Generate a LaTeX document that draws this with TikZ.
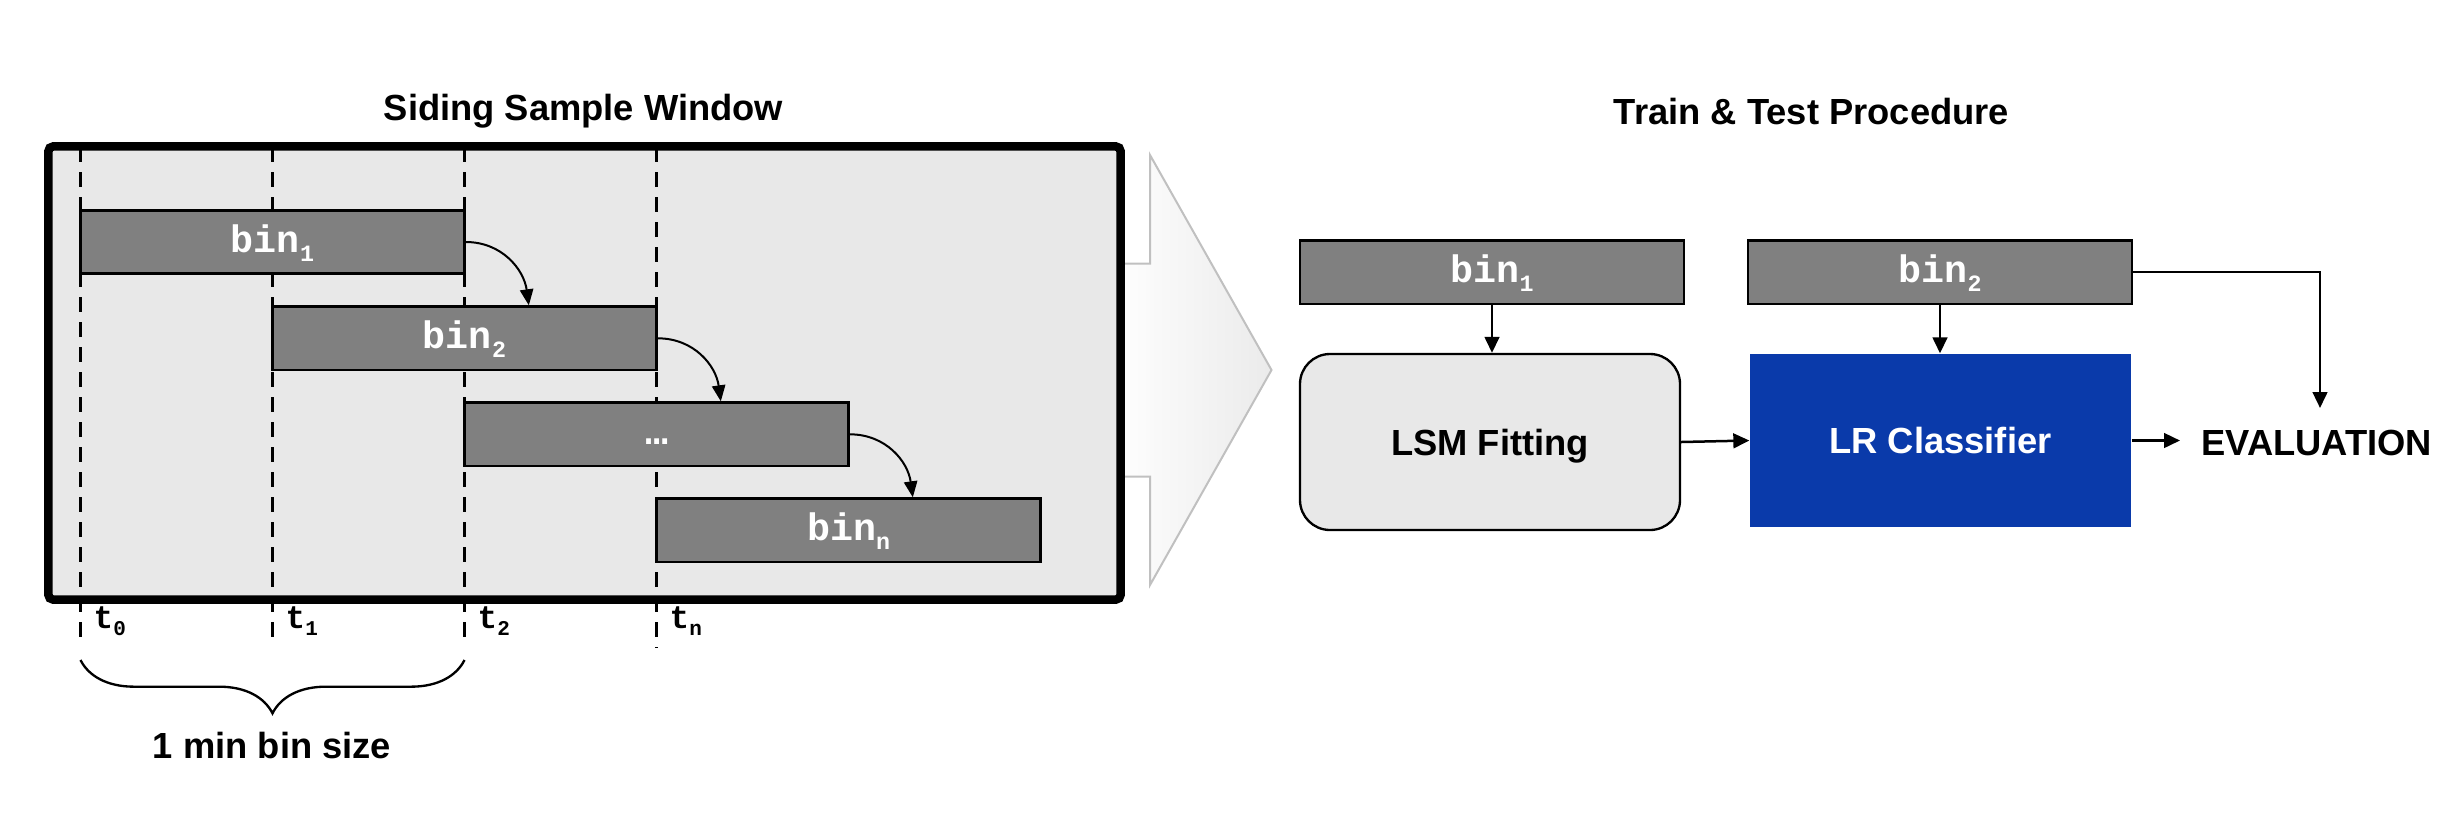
\documentclass[tikz,border=0pt]{standalone}
\usepackage{fontspec}
\setmainfont{Liberation Sans}
\newfontfamily\monof{Liberation Mono}
\usetikzlibrary{arrows.meta,decorations.pathreplacing,calc}
\definecolor{binfill}{HTML}{808080}
\definecolor{winfill}{HTML}{E8E8E8}
\definecolor{lrblue}{HTML}{0A3AAA}
\definecolor{arrowgray}{HTML}{C0C0C0}
\newcommand{\bsub}[1]{\raisebox{-2.6pt}{\fontsize{7}{7}\selectfont #1}}
\newcommand{\tsub}[1]{\raisebox{-2.2pt}{\fontsize{6.3}{6.3}\selectfont #1}}
\begin{document}
\begin{tikzpicture}[x=0.3pt,y=-0.3pt,
  binbox/.style={draw=black, line width=0.8pt, fill=binfill, minimum width=115.2pt,
    minimum height=19pt, inner sep=0pt, text=white,
    font=\monof\bfseries\fontsize{11.5}{13}\selectfont, text height=7.7pt, text depth=1.3pt},
  tlab/.style={inner sep=0pt, font=\monof\bfseries\fontsize{9.8}{11}\selectfont},
  sanslab/.style={font=\bfseries\fontsize{10.9}{13}\selectfont},
  guide/.style={line width=0.7pt, dash pattern=on 4.5pt off 3pt},
  curvarrow/.style={line width=0.6pt, -{Triangle[length=4.8pt,width=4pt]}},
  conn/.style={line width=0.75pt, -{Triangle[length=4.8pt,width=4.4pt]}},
  lsmbox/.style={draw=black, line width=0.7pt, fill=winfill, rounded corners=9pt,
    minimum width=114pt, minimum height=52.8pt, inner sep=0pt, sanslab,
    text height=7.8pt, text depth=0pt},
  lrbox/.style={fill=lrblue, minimum width=114.3pt, minimum height=51.9pt, inner sep=0pt,
    text=white, sanslab, text height=7.8pt, text depth=0pt}
]
\useasboundingbox (0,0) rectangle (2461,835);

% big transition arrow
\shade[left color=white, right color=black!8]
  (1110,263.5) -- (1150,263.5) -- (1150,155) -- (1271.5,370) -- (1150,585) -- (1150,476.5) -- (1110,476.5) -- cycle;
\draw[arrowgray, line width=0.6pt]
  (1110,263.5) -- (1150,263.5) -- (1150,155) -- (1271.5,370) -- (1150,585) -- (1150,476.5) -- (1110,476.5);

% window
\node[fill=winfill, minimum width=321.3pt, minimum height=135.6pt, inner sep=0pt] (win) at (584.5,373) {};

% guide lines
\foreach \gx/\gy/\gn in {80.5/640/0, 272.5/640/1, 464.5/640/2, 656.5/648/n}{
  \coordinate (gt\gn) at (\gx,147);
  \coordinate (gb\gn) at (\gx,\gy);
  \draw[guide] (gt\gn) -- (gb\gn);
}

% bins
\node[binbox] (b1) at (272.5,242) {bin\bsub{1}};
\node[binbox] (b2) at (464.5,338.3) {bin\bsub{2}};
\node[binbox] (b3) at (656.5,434.3) {…};
\node[binbox] (bn) at (848.5,530.3) {bin\bsub{n}};

\draw[line width=2.55pt, rounded corners=1.5pt] (win.north west) rectangle (win.south east);

% curved arrows
\coordinate (a2) at ([xshift=19.3pt]b2.north);
\coordinate (a3) at ([xshift=19.3pt]b3.north);
\coordinate (an) at ([xshift=19.3pt]bn.north);
\draw[curvarrow] (b1.east) .. controls ($(b1.east)+(36,0)$) and ($(a2)+(-5,-36)$) .. (a2);
\draw[curvarrow] (b2.east) .. controls ($(b2.east)+(36,0)$) and ($(a3)+(-5,-36)$) .. (a3);
\draw[curvarrow] (b3.east) .. controls ($(b3.east)+(36,0)$) and ($(an)+(-5,-36)$) .. (an);

% time labels
\node[tlab, anchor=base west] (t0) at (93,628) {t\tsub{0}};
\node[tlab, anchor=base west] (t1) at (285,628) {t\tsub{1}};
\node[tlab, anchor=base west] (t2) at (477,628) {t\tsub{2}};
\node[tlab, anchor=base west] (tn) at (669,628) {t\tsub{n}};

% brace
\coordinate (brl) at (80.5,660);
\coordinate (brr) at (464.5,660);
\draw[line width=0.7pt, decorate, decoration={brace, amplitude=16pt, mirror}] (brl) -- (brr);
\node[sanslab, anchor=base] (bsize) at (272,758.3) {1 min bin size};

% titles
\node[sanslab, anchor=base] (ttl1) at (583.5,120) {Siding Sample Window};
\node[sanslab, anchor=base] (ttl2) at (1811.5,124.5) {Train \& Test Procedure};

% right side
\node[binbox] (rb1) at (1492,272.2) {bin\bsub{1}};
\node[binbox] (rb2) at (1940,272.2) {bin\bsub{2}};
\node[lsmbox] (lsm) at (1490,442) {LSM Fitting};
\node[lrbox] (lr) at (1940.5,440.5) {LR Classifier};
\node[sanslab, anchor=west, inner xsep=6.2pt, inner ysep=0pt, text height=7.8pt, text depth=0pt] (ev) at (2180,442) {EVALUATION};
\coordinate (evtop) at (2320,408);

\draw[conn] (rb1.south) -- (rb1.south |- lsm.north);
\draw[conn] (rb2.south) -- (rb2.south |- lr.north);
\draw[conn] (lsm.east) -- (lr.west);
\draw[conn] (lr.east) -- (lr.east -| ev.west);
\draw[conn] (rb2.east) -| (evtop);
\end{tikzpicture}
\end{document}
